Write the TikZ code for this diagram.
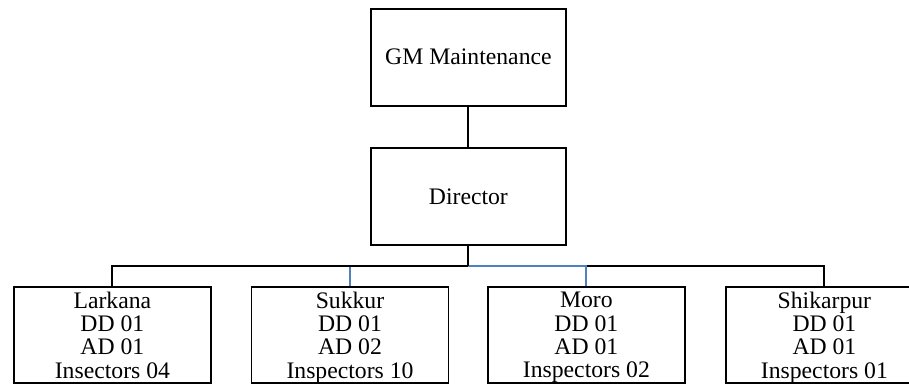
\documentclass[tikz,border=0pt]{standalone}
\usepackage{fontspec}
\setmainfont{Liberation Serif}
\usepackage{xcolor}
\usepackage{tikz}
\usetikzlibrary{positioning}

\definecolor{linkblue}{RGB}{79,129,189}

\begin{document}
\begin{tikzpicture}[line width=1.4pt, font=\fontsize{16.85pt}{16.6pt}\selectfont,
    head/.style={draw, align=center, minimum width=4.875cm, minimum height=2.43cm, inner sep=0pt},
    unit/.style={draw, align=center, minimum width=4.925cm, minimum height=2.4cm, inner sep=0pt, text depth=0pt},
    bluelink/.style={draw=linkblue}]
      \clip (0,0) rectangle (22.725,-9.6);

      \node[head]  (GM)  at (11.71, -1.43)   {GM Maintenance};
      \node[head]  (DIR) at (11.71, -4.91)   {Director};

      \node[unit]  (LAR) at ( 2.81, -8.375)  {Larkana \\ DD 01 \\ AD 01 \\ Insectors 04};
      \node[unit]  (SUK) at ( 8.75, -8.375)  {Sukkur \\ DD 01 \\ AD 02 \\ Inspectors 10};
      \node[unit]  (MOR) at (14.66, -8.375)  {Moro \\ DD 01 \\ AD 01 \\ Inspectors 02};
      \node[unit]  (SHI) at (20.61, -8.375)  {Shikarpur \\ DD 01 \\ AD 01 \\ Inspectors 01};

      \coordinate (bus) at (11.71, -6.65);

      \draw (GM) -- (DIR);

      \draw (SHI) |- (bus);
      \draw[bluelink] (bus) -| (MOR);
      \draw[bluelink] (SUK) |- (bus);
      \draw (LAR) |- (bus);

      \draw (DIR) -- (bus);
    \end{tikzpicture}
\end{document}
